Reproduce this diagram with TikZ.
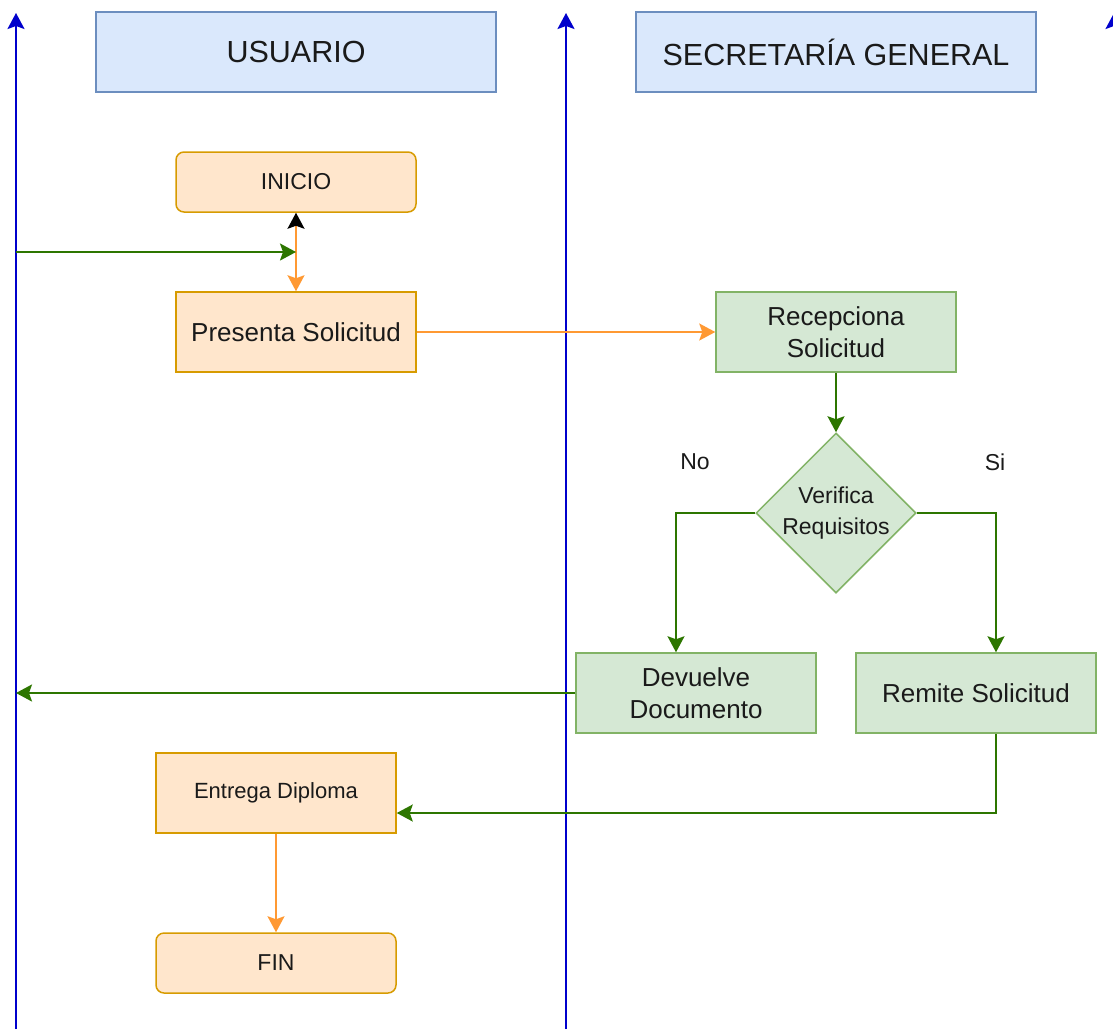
\documentclass[tikz,border=0pt]{standalone}
\usepackage{fontspec}
\setmainfont{Liberation Sans}
\usepackage{xcolor}
\usepackage{tikz}
\usetikzlibrary{arrows.meta}
\usetikzlibrary{shapes.geometric, positioning}

\definecolor{cabFondo}{HTML}{DAE8FC}
\definecolor{cabBorde}{HTML}{6C8EBF}
\definecolor{narFondo}{HTML}{FFE6CC}
\definecolor{narBorde}{HTML}{D79B00}
\definecolor{verFondo}{HTML}{D5E8D4}
\definecolor{verBorde}{HTML}{82B366}
\definecolor{verLinea}{HTML}{2D7600}
\definecolor{narLinea}{HTML}{FF9933}
\definecolor{azulLinea}{HTML}{0000CC}
\definecolor{texto}{HTML}{1A1A1A}

\begin{document}
\begin{tikzpicture}[
      x=1pt, y=-1pt,
      punta/.tip={Stealth[length=16pt, width=17pt, inset=3pt]},
      cab/.style={draw=cabBorde, fill=cabFondo, line width=1.5pt, text=texto,
        minimum width=400pt, minimum height=80pt, inner sep=0pt,
        font=\fontsize{30.5}{36}\selectfont},
      caja/.style={line width=1.5pt, minimum width=240pt, minimum height=80pt,
        inner sep=0pt, align=center, text=texto, font=\fontsize{26}{32}\selectfont},
      nar/.style={caja, draw=narBorde, fill=narFondo},
      ver/.style={caja, draw=verBorde, fill=verFondo},
      term/.style={nar, rounded corners=8pt, minimum height=60pt,
        font=\fontsize{23}{28}\selectfont},
      rombo/.style={diamond, draw=verBorde, fill=verFondo, line width=1.5pt,
        minimum width=160pt, minimum height=160pt, inner sep=0pt, align=center,
        text=texto, font=\fontsize{23}{31}\selectfont},
      lbl/.style={text=texto, font=\fontsize{23}{28}\selectfont},
      carril/.style={azulLinea, line width=2pt, -punta},
      fv/.style={verLinea, line width=2pt, -punta},
      fn/.style={narLinea, line width=2pt, -punta}
    ]
    \clip (0,0) rectangle (1113,1029);

    % Carriles
    \coordinate (cA) at (16,1029);
    \coordinate (cB) at (566,1029);
    \coordinate (cC) at (1114,1029);
    \foreach \c in {cA,cB,cC} \draw[carril] (\c) -- ++(0,-1016);

    % Cabeceras
    \node[cab] (usuario) at (296,52) {USUARIO};
    \node[cab] (secretaria) at (836,52) {SECRETARÍA GENERAL};

    % Usuario
    \node[term] (inicio) at (296,182) {INICIO};
    \node[nar] (presenta) at (296,332) {Presenta Solicitud};
    \node[nar, font=\fontsize{22}{26}\selectfont] (entrega) at (276,793) {Entrega Diploma};
    \node[term] (fin) at (276,963) {FIN};

    % Secretaria
    \node[ver] (recepciona) at (836,332) {Recepciona\\Solicitud};
    \node[rombo] (verifica) at (836,513) {Verifica\\Requisitos};
    \node[ver] (devuelve) at (696,693) {Devuelve\\Documento};
    \node[ver] (remite) at (976,693) {Remite Solicitud};

    \node[lbl] (no) at (695,462) {No};
    \node[lbl] (si) at (995,462) {Si};

    % Flujos
    \coordinate (junta) at (296,252);
    \draw[fn, {Stealth[length=16pt, width=17pt, inset=3pt, black]}-punta] (inicio) -- (presenta);
    \draw[fv] (junta -| cA) -- (junta);
    \draw[fn] (presenta) -- (recepciona);
    \draw[fv] (recepciona) -- (verifica);
    \draw[fv] (verifica.west) -| ([xshift=-20pt]devuelve.north);
    \draw[fv] (verifica.east) -| ([xshift=20pt]remite.north);
    \draw[fv] (devuelve.west) -- (devuelve.west -| cA);
    \draw[fv] ([xshift=20pt]remite.south) |- ([yshift=-20pt]entrega.east);
    \draw[fn] (entrega) -- (fin);
  \end{tikzpicture}
\end{document}
